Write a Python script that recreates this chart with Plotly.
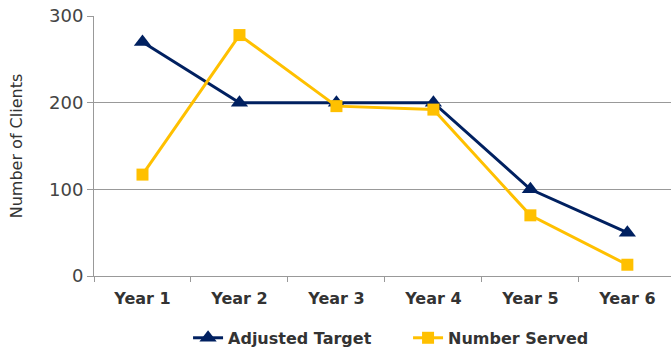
import plotly.graph_objects as go

years = ['Year 1', 'Year 2', 'Year 3', 'Year 4', 'Year 5', 'Year 6']
adjusted_target = [270, 200, 200, 200, 100, 50]
number_served = [117, 278, 196, 192, 70, 13]

font_fam = 'DejaVu Sans'
gris = '#404040'

fig = go.Figure()
fig.add_trace(go.Scatter(
    x=years, y=adjusted_target, name='Adjusted Target',
    mode='lines+markers',
    line=dict(color='#002060', width=3),
    marker=dict(symbol='triangle-up', size=15, color='#002060')
))
fig.add_trace(go.Scatter(
    x=years, y=number_served, name='Number Served',
    mode='lines+markers',
    line=dict(color='#FFC000', width=3),
    marker=dict(symbol='square', size=12, color='#FFC000')
))

fig.update_layout(
    width=671, height=347,
    margin=dict(t=16, b=71, l=94, r=0, autoexpand=False),
    paper_bgcolor='white', plot_bgcolor='white',
    font=dict(family=font_fam, size=13, color=gris),
    showlegend=True,
    legend=dict(
        orientation='h', x=0.163, xanchor='left', y=-0.238, yanchor='middle',
        font=dict(family=font_fam, size=16, color='#333', weight='bold'),
        itemwidth=30, entrywidth=175, entrywidthmode='pixels'
    ),
    xaxis=dict(
        type='category', range=[-0.5, 5.45], automargin=False,
        tickson='boundaries', ticks='outside', ticklen=5, tickcolor='#999',
        ticklabelstandoff=8,
        showline=True, linecolor='#999', linewidth=1,
        showgrid=False,
        tickfont=dict(family=font_fam, size=16, color='#333', weight='bold')
    ),
    yaxis=dict(
        range=[0, 300], dtick=100, automargin=False,
        ticks='outside', ticklen=6, tickcolor='#999',
        showline=True, linecolor='#999', linewidth=1,
        showgrid=True, gridcolor='#999', gridwidth=1,
        zeroline=False,
        title=dict(text='Number of Clients', standoff=22,
                   font=dict(family=font_fam, size=16, color='#333')),
        tickfont=dict(family=font_fam, size=18, color='#444')
    )
)

# la pagina trae margen de 8px en el body
fig.write_html("out.html", config={'displayModeBar': False},
               post_script="document.body.style.margin='0';")
